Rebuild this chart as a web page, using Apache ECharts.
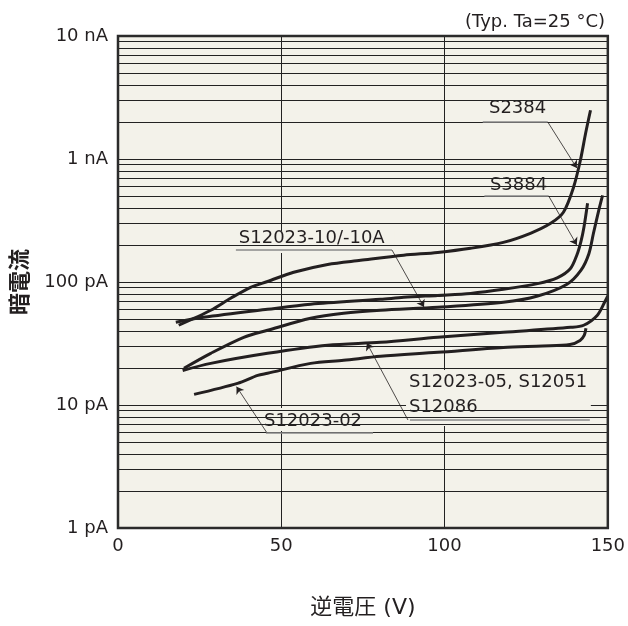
<!DOCTYPE html>
<html><head><meta charset="utf-8">
<script src="https://cdn.jsdelivr.net/npm/echarts@6/dist/echarts.min.js"></script>
<style>html,body{margin:0;padding:0;background:#fff}#c{width:628px;height:626px}</style>
</head><body><div id="c"></div>
<script>
// ---- data (x: reverse voltage V, y: dark current pA) ----
const xTicks = [0, 50, 100, 150];
const yTickLabels = ['1 pA', '10 pA', '100 pA', '1 nA', '10 nA'];
const minorGrid = [2,3,4,5,6,7,8,9, 20,30,40,50,60,70,80,90, 200,300,400,500,600,700,800,900, 2000,3000,4000,5000,6000,7000,8000,9000];
const xName = '逆電圧 (V)';
const yName = '暗電流';
const typLabel = '(Typ. Ta=25 °C)';

const s2384 = [[18.6,44.5],[28.4,58.9],[34.5,73.8],[40.6,90.6],[45.8,101],[53.8,120],[64.2,139],[74.3,150],[87.5,165],[97.9,174],[108,188],[118,210],[126.3,249],[132.5,300],[136.4,369],[139.5,589],[141.6,976],[143.2,1620],[144.7,2490]];
const s3884 = [[17.7,47],[26.2,51.6],[45.8,60],[59,65.9],[80.4,72.3],[87.5,75],[97.9,77.8],[108,80.8],[118,87.2],[128.5,97],[134.5,108],[138.5,128],[140.5,165],[141.8,215],[142.7,280],[143.8,437]];
const s12023_10 = [[20.2,19.9],[28.4,26.3],[38.5,35.5],[45.8,40.5],[59,50.7],[69.1,55.7],[80.4,58.9],[97.9,62.3],[118,68.4],[128.5,77],[137.5,96],[141.8,125],[144.2,170],[145.6,249],[147.4,400],[148.4,507]];
const s12023_05 = [[19.8,19.1],[28.4,21.8],[45.8,26.3],[64.2,30.6],[80.4,32.3],[97.9,35.5],[118,39],[138.6,42.8],[142.6,44.5],[146.8,53.7],[149.2,70],[150,77]];
const s12023_02 = [[23.3,12.2],[36.6,15],[42.8,17.4],[45.8,18.1],[59,21.8],[69.1,23.1],[80.4,24.9],[97.9,26.8],[118,29.4],[130,30.2],[138.4,31],[141.5,33.5],[142.8,37],[143.3,42]];

// ---- styling ----
const FONT = "'DejaVu Sans', 'Noto Sans CJK JP', sans-serif";
const TXT = '#231f20';
const BG = '#f3f2ea';
const GRIDC = '#222';

// annotation placement (data coordinates)
const annotations = [
  {text:'S2384', at:[113.6,2574], box:[[111.4,3192],[132.2,1927]], under:[[111.7,2000],[131.6,2000]], arrow:[[131.6,2000],[140.5,845]]},
  {text:'S3884', at:[113.9,609], box:[[111.4,755],[132.2,473]], under:[[112.2,500],[131.9,500]], arrow:[[131.9,500],[140.5,200]]},
  {text:'S12023-10/-10A', at:[37.0,228], box:[[35.2,260],[84.8,172]], under:[[36.1,182],[83.9,182]], arrow:[[83.9,182],[93.7,62.6]]},
  {text:'S12023-05, S12051\nS12086', at:[89.1,12.0], box:[[88.2,19.27],[144.8,6.75]], under:[[89.4,7.55],[144.5,7.55]], arrow:[[88.8,7.55],[76.2,31.9]]},
  {text:'S12023-02', at:[44.7,7.32], box:[[43.2,9.45],[77.4,6.15]], under:[[45.3,6],[78.1,6]], arrow:[[45.5,6],[36.3,14.1]]}
];

const chart = echarts.init(document.getElementById('c'));

function curve(name, data) {
  return {name, type:'line', data, smooth:0.3, symbol:'none', showSymbol:false, z:4,
    lineStyle:{color:TXT, width:3}, silent:true};
}

const leaderData = [];
annotations.forEach(a => {
  leaderData.push([{coord:a.under[0], symbol:'none', lineStyle:{color:'#8a8a8a', width:1.5}}, {coord:a.under[1], symbol:'none'}]);
  leaderData.push([{coord:a.arrow[0], symbol:'none', lineStyle:{color:TXT, width:0.8}}, {coord:a.arrow[1], symbol:'arrow', symbolSize:7}]);
});

const option = {
  animation:false,
  backgroundColor:'#ffffff',
  title:{text:typLabel, right:18, top:8, textStyle:{fontFamily:FONT, fontSize:18, fontWeight:'normal', color:TXT}},
  grid:{left:118, right:20, top:36, bottom:98, show:true, backgroundColor:BG, borderWidth:0},
  xAxis:{type:'value', min:xTicks[0], max:xTicks[xTicks.length-1], interval:50,
    name:xName, nameLocation:'middle', nameGap:69,
    nameTextStyle:{fontFamily:FONT, fontSize:22, color:TXT},
    axisLine:{show:false}, axisTick:{show:false},
    axisLabel:{margin:9, fontFamily:FONT, fontSize:18, color:TXT},
    splitLine:{show:true, lineStyle:{color:GRIDC, width:1}}},
  yAxis:{type:'log', logBase:10, min:1, max:10000,
    name:yName, nameLocation:'middle', nameRotate:90, nameGap:86,
    nameTextStyle:{fontFamily:FONT, fontSize:22, fontWeight:'bold', color:TXT},
    axisLine:{show:false}, axisTick:{show:false},
    axisLabel:{margin:10, fontFamily:FONT, fontSize:18, color:TXT,
      formatter:v => yTickLabels[Math.round(Math.log10(v))] || ''},
    splitLine:{show:true, lineStyle:{color:GRIDC, width:1}}},
  series:[
    {type:'line', data:[], z:1, silent:true,
      markLine:{silent:true, animation:false, symbol:'none', label:{show:false},
        lineStyle:{color:GRIDC, width:1, type:'solid'},
        data:minorGrid.map(v => ({yAxis:v}))}},
    curve('S2384', s2384),
    curve('S3884', s3884),
    curve('S12023-10/-10A', s12023_10),
    curve('S12023-05, S12051, S12086', s12023_05),
    curve('S12023-02', s12023_02),
    {type:'line', data:[], z:5, silent:true,
      markLine:{silent:true, animation:false, symbol:'none', label:{show:false},
        lineStyle:{type:'solid'}, data:leaderData}}
  ]
};
chart.setOption(option);

function px(p){ return chart.convertToPixel({gridIndex:0}, p); }
const g = [];
annotations.forEach(a => {
  const p1 = px(a.box[0]), p2 = px(a.box[1]);
  g.push({type:'rect', z:3, silent:true,
    shape:{x:Math.min(p1[0],p2[0]), y:Math.min(p1[1],p2[1]), width:Math.abs(p2[0]-p1[0]), height:Math.abs(p2[1]-p1[1])},
    style:{fill:BG}});
  const t = px(a.at);
  g.push({type:'text', z:3, silent:true, x:t[0], y:t[1],
    style:{text:a.text, fill:TXT, fontFamily:FONT, fontSize:18, align:'left', verticalAlign:'middle', lineHeight:25}});
});
const f1 = px([xTicks[0], 10000]), f2 = px([xTicks[xTicks.length-1], 1]);
g.push({type:'rect', z:10, silent:true, shape:{x:f1[0], y:f1[1], width:f2[0]-f1[0], height:f2[1]-f1[1]},
  style:{fill:'none', stroke:'#2b2b2b', lineWidth:2.5}});
chart.setOption({graphic:g});
</script>
</body></html>
